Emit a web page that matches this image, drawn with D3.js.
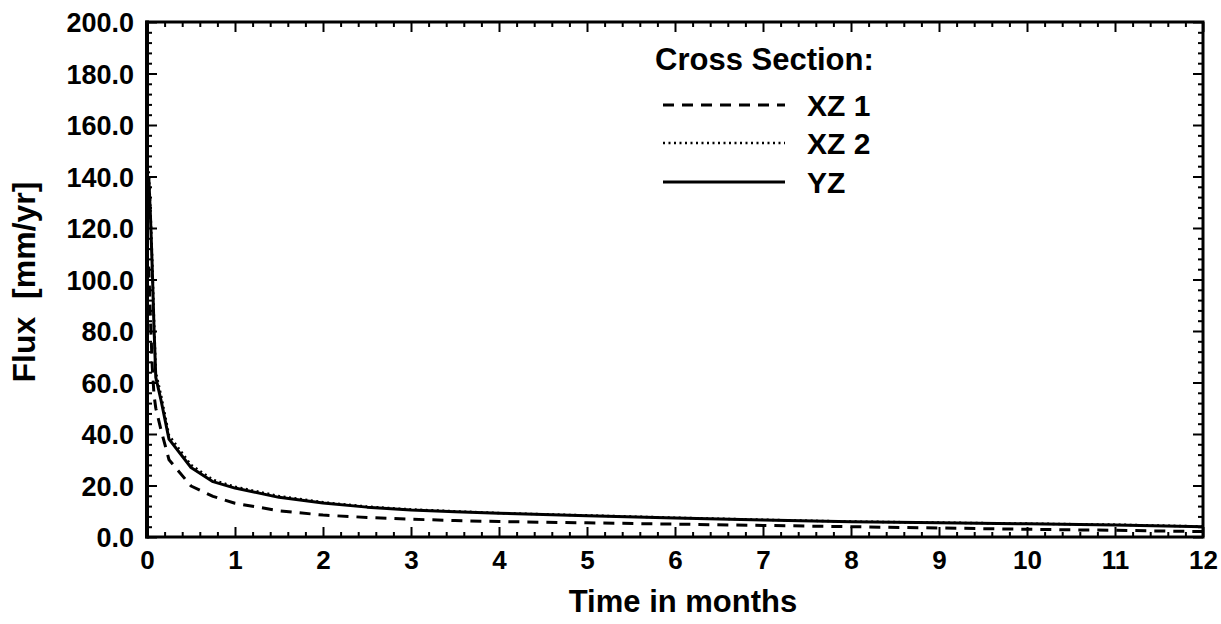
<!DOCTYPE html>
<html>
<head>
<meta charset="utf-8">
<script src="https://cdn.jsdelivr.net/npm/d3@7"></script>
<style>
  html, body { margin: 0; padding: 0; background: #fff; }
  svg { display: block; }
  text { font-family: "Liberation Sans", Arial, Helvetica, sans-serif; font-weight: bold; fill: #000; }
</style>
</head>
<body>
<svg id="chart" width="1221" height="624"></svg>
<script>
// ---- data ----
const months = [0.02, 0.04, 0.06, 0.08, 0.1, 0.16, 0.25, 0.5, 0.75, 1, 1.5, 2, 2.5, 3, 3.5, 4, 5, 6, 7, 8, 9, 10, 11, 12];
const fluxXZ1 = [105, 84, 66, 55, 50, 41.5, 30, 19.8, 15.8, 13.1, 10.2, 8.5, 7.6, 6.9, 6.4, 6.0, 5.5, 5.0, 4.5, 4.0, 3.5, 3.0, 2.6, 2.1];
const fluxXZ2 = [142, 127, 107, 84, 64, 55, 39.5, 28, 22.2, 19.5, 15.9, 13.5, 11.8, 10.7, 10.0, 9.3, 8.4, 7.5, 6.7, 6.0, 5.6, 5.2, 4.8, 4.1];
const fluxYZ  = [140, 124, 104, 81, 62, 53, 38, 27, 21.5, 19, 15.4, 13.2, 11.6, 10.5, 9.8, 9.2, 8.3, 7.4, 6.6, 5.9, 5.5, 5.1, 4.7, 4.0];
const seriesNames = ["XZ 1", "XZ 2", "YZ"];
const xMajorTicks = [0, 1, 2, 3, 4, 5, 6, 7, 8, 9, 10, 11, 12];
const yMajorTicks = [0, 20, 40, 60, 80, 100, 120, 140, 160, 180, 200];
const xTitle = "Time in months";
const yTitle = "Flux\u00a0\u00a0[mm/yr]";
const legendTitle = "Cross Section:";

// ---- layout ----
const svg = d3.select("#chart");
const L = 147, R = 1203, T = 22, B = 537;
const x = d3.scaleLinear().domain([0, 12]).range([L, R]);
const y = d3.scaleLinear().domain([0, 200]).range([B, T]);

const xMinor = d3.range(0, 12.001, 0.2).filter(v => Math.abs(v - Math.round(v)) > 1e-6);
const yMinor = d3.range(0, 200.001, 4).filter(v => v % 20 !== 0);

function styleAxis(g) {
  g.select(".domain").remove();
  g.selectAll(".tick line").attr("stroke", "#000").attr("stroke-width", 2);
}

// bottom axis (labels + inward ticks)
svg.append("g").attr("transform", `translate(0,${B})`)
  .call(d3.axisBottom(x).tickValues(xMajorTicks).tickSize(-10).tickPadding(8).tickFormat(d3.format("d")))
  .call(styleAxis)
  .call(g => g.selectAll("text").attr("font-size", 26).attr("dy", "0.95em").attr("y", 7));
svg.append("g").attr("transform", `translate(0,${B})`)
  .call(d3.axisBottom(x).tickValues(xMinor).tickSize(-5).tickFormat(""))
  .call(styleAxis);
// top axis
svg.append("g").attr("transform", `translate(0,${T})`)
  .call(d3.axisTop(x).tickValues(xMajorTicks).tickSize(-10).tickFormat(""))
  .call(styleAxis);
svg.append("g").attr("transform", `translate(0,${T})`)
  .call(d3.axisTop(x).tickValues(xMinor).tickSize(-5).tickFormat(""))
  .call(styleAxis);
// left axis
svg.append("g").attr("transform", `translate(${L},0)`)
  .call(d3.axisLeft(y).tickValues(yMajorTicks).tickSize(-10).tickPadding(14).tickFormat(d3.format(".1f")))
  .call(styleAxis)
  .call(g => g.selectAll("text").attr("font-size", 27).attr("x", -13).attr("dy", "0.36em"));
svg.append("g").attr("transform", `translate(${L},0)`)
  .call(d3.axisLeft(y).tickValues(yMinor).tickSize(-5).tickFormat(""))
  .call(styleAxis);
// right axis
svg.append("g").attr("transform", `translate(${R},0)`)
  .call(d3.axisRight(y).tickValues(yMajorTicks).tickSize(-10).tickFormat(""))
  .call(styleAxis);
svg.append("g").attr("transform", `translate(${R},0)`)
  .call(d3.axisRight(y).tickValues(yMinor).tickSize(-5).tickFormat(""))
  .call(styleAxis);

// frame
svg.append("rect").attr("x", L).attr("y", T).attr("width", R - L).attr("height", B - T)
  .attr("fill", "none").attr("stroke", "#000").attr("stroke-width", 3);
svg.append("line").attr("x1", L).attr("x2", L).attr("y1", T - 1.5).attr("y2", B + 1.5)
  .attr("stroke", "#000").attr("stroke-width", 4);

// ---- series ----
const styles = [
  { data: fluxXZ1, dash: "11,8", width: 3 },
  { data: fluxXZ2, dash: "2,3.5", width: 2.5 },
  { data: fluxYZ,  dash: null, width: 3 }
];
const line = d3.line().x(d => x(d[0])).y(d => y(d[1]));
styles.forEach(s => {
  svg.append("path")
    .datum(months.map((m, i) => [m, s.data[i]]))
    .attr("d", line)
    .attr("fill", "none")
    .attr("stroke", "#000")
    .attr("stroke-width", s.width)
    .attr("stroke-dasharray", s.dash)
    .attr("stroke-linejoin", "round");
});

// ---- legend ----
svg.append("text").attr("x", 655).attr("y", 70).attr("font-size", 31).text(legendTitle);
const legY = [105, 143, 182];
seriesNames.forEach((name, i) => {
  svg.append("line").attr("x1", 663).attr("x2", 785).attr("y1", legY[i]).attr("y2", legY[i])
    .attr("stroke", "#000").attr("stroke-width", styles[i].width)
    .attr("stroke-dasharray", styles[i].dash);
  svg.append("text").attr("x", 807).attr("y", legY[i]).attr("dy", "0.36em")
    .attr("font-size", 30).text(name);
});

// ---- axis titles ----
svg.append("text").attr("x", 683).attr("y", 612).attr("text-anchor", "middle")
  .attr("font-size", 31).text(xTitle);
svg.append("text").attr("transform", "translate(35,282) rotate(-90)")
  .attr("text-anchor", "middle").attr("font-size", 32).text(yTitle);
</script>
</body>
</html>
